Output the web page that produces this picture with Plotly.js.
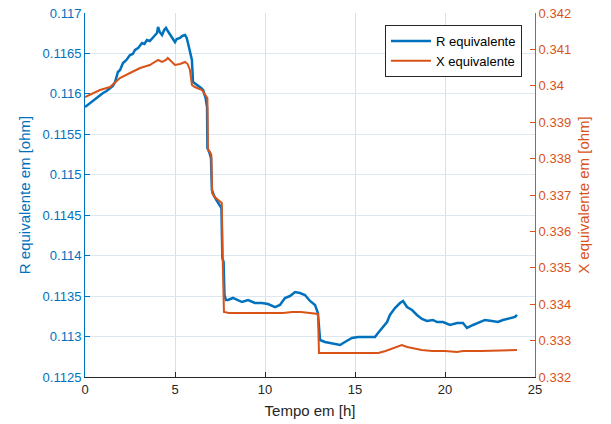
<!DOCTYPE html>
<html>
<head>
<meta charset="utf-8">
<script src="https://cdn.plot.ly/plotly-3.0.1.min.js"></script>
<style>
html,body{margin:0;padding:0;background:#fff;}
#chart{width:611px;height:424px;}
</style>
</head>
<body>
<div id="chart"></div>
<script>
// Time [h] for R series
var tR = [
  0, 0.28, 0.5, 0.67, 0.83, 1.0, 1.2, 1.39, 1.55, 1.67,
  1.83, 1.95, 2.11, 2.3, 2.5, 2.65, 2.78, 2.95, 3.17, 3.3,
  3.44, 3.6, 3.72, 3.85, 4.0, 4.06, 4.15, 4.28, 4.4, 4.5,
  4.6, 4.72, 4.85, 5.0, 5.1, 5.28, 5.4, 5.56, 5.65, 5.72,
  5.85, 5.94, 6.0, 6.15, 6.28, 6.45, 6.56, 6.7, 6.78, 6.8,
  6.9, 7.0, 7.05, 7.15, 7.3, 7.45, 7.58, 7.63, 7.7, 7.75,
  7.83, 7.94, 8.22, 8.72, 9.06, 9.44, 9.83, 10.17, 10.56, 10.83,
  11.11, 11.39, 11.67, 11.94, 12.22, 12.5, 12.78, 12.94, 13.06, 13.33,
  13.72, 14.17, 14.44, 14.83, 15.17, 15.56, 15.83, 16.11, 16.28, 16.5,
  16.78, 16.94, 17.22, 17.5, 17.67, 17.89, 18.17, 18.44, 18.72, 19.0,
  19.33, 19.56, 19.89, 20.28, 20.67, 21.0, 21.22, 21.56, 21.94, 22.22,
  22.61, 22.94, 23.22, 23.61, 23.89, 24.0
];
// R equivalente [ohm]
var rEquiv = [
  0.115838, 0.115887, 0.115924, 0.115949, 0.115974, 0.116011, 0.116036, 0.116073, 0.116098, 0.116147,
  0.116271, 0.116295, 0.116382, 0.116419, 0.116481, 0.116493, 0.116543, 0.116567, 0.116629, 0.116617,
  0.116666, 0.116654, 0.116691, 0.116716, 0.116753, 0.116827, 0.116765, 0.116728, 0.116790, 0.116815,
  0.116777, 0.116728, 0.116691, 0.116641, 0.116679, 0.116691, 0.116716, 0.116728, 0.116691, 0.116629,
  0.116518, 0.116419, 0.116147, 0.116122, 0.116110, 0.116073, 0.116048, 0.115949, 0.115838, 0.115331,
  0.115282, 0.115207, 0.114812, 0.114750, 0.114688, 0.114626, 0.114589, 0.113971, 0.113922, 0.113514,
  0.113452, 0.113452, 0.113477, 0.113427, 0.113452, 0.113415, 0.113415, 0.113402, 0.113365, 0.113390,
  0.113477, 0.113501, 0.113551, 0.113538, 0.113514, 0.113440, 0.113390, 0.113291, 0.112957, 0.112933,
  0.112920, 0.112896, 0.112933, 0.112982, 0.112995, 0.112995, 0.112995, 0.112995, 0.113044, 0.113106,
  0.113180, 0.113267, 0.113353, 0.113415, 0.113440, 0.113365, 0.113328, 0.113267, 0.113217, 0.113192,
  0.113205, 0.113180, 0.113180, 0.113143, 0.113168, 0.113168, 0.113106, 0.113143, 0.113180, 0.113205,
  0.113192, 0.113180, 0.113205, 0.113229, 0.113242, 0.113267
];
// Time [h] for X series
var tX = [
  0, 0.5, 0.83, 1.39, 1.7, 1.94, 2.5, 3.06, 3.6, 4.06,
  4.28, 4.5, 4.6, 4.8, 5.0, 5.28, 5.56, 5.7, 5.83, 5.94,
  6.1, 6.5, 6.7, 6.8, 6.83, 6.95, 7.02, 7.06, 7.2, 7.4,
  7.6, 7.65, 7.72, 8.0, 9.0, 10.0, 11.0, 11.5, 12.0, 12.5,
  12.94, 13.0, 14.0, 15.0, 16.0, 16.3, 16.7, 17.1, 17.6, 17.9,
  18.2, 18.7, 19.3, 20.0, 20.67, 21.0, 22.0, 23.0, 24.0
];
// X equivalente [ohm]
var xEquiv = [
  0.339692, 0.339802, 0.339885, 0.339967, 0.340104, 0.340214, 0.340352, 0.340489, 0.340571, 0.340709,
  0.340654, 0.340709, 0.340764, 0.340654, 0.340571, 0.340599, 0.340654, 0.340599, 0.340434, 0.340022,
  0.339967, 0.339885, 0.339747, 0.339665, 0.338236, 0.338181, 0.338099, 0.337055, 0.336945, 0.336863,
  0.336780, 0.335214, 0.333786, 0.333758, 0.333758, 0.333758, 0.333758, 0.333786, 0.333786, 0.333758,
  0.333731, 0.332659, 0.332659, 0.332659, 0.332659, 0.332659, 0.332714, 0.332797, 0.332879, 0.332824,
  0.332797, 0.332742, 0.332714, 0.332714, 0.332687, 0.332714, 0.332714, 0.332728, 0.332742
];

var xTickVals = [0, 5, 10, 15, 20, 25];
var xTickText = ["0", "5", "10", "15", "20", "25"];
var yLeftTickVals = [0.1125, 0.113, 0.1135, 0.114, 0.1145, 0.115, 0.1155, 0.116, 0.1165, 0.117];
var yLeftTickText = ["0.1125", "0.113", "0.1135", "0.114", "0.1145", "0.115", "0.1155", "0.116", "0.1165", "0.117"];
var yRightTickVals = [0.332, 0.333, 0.334, 0.335, 0.336, 0.337, 0.338, 0.339, 0.34, 0.341, 0.342];
var yRightTickText = ["0.332", "0.333", "0.334", "0.335", "0.336", "0.337", "0.338", "0.339", "0.34", "0.341", "0.342"];

var seriesNames = ["R equivalente", "X equivalente"];

var BLUE = "#0072BD", ORANGE = "#D95319", DARK = "#262626";
var FONT = "Liberation Sans, Arial, sans-serif";

var traces = [
  {x: tR, y: rEquiv, name: seriesNames[0], type: "scatter", mode: "lines",
   line: {color: BLUE, width: 2.5}, yaxis: "y"},
  {x: tX, y: xEquiv, name: seriesNames[1], type: "scatter", mode: "lines",
   line: {color: ORANGE, width: 2}, yaxis: "y2"}
];

var layout = {
  width: 611, height: 424,
  margin: {l: 85, r: 76, t: 13, b: 47, pad: 0},
  paper_bgcolor: "#ffffff", plot_bgcolor: "#ffffff",
  font: {family: FONT, size: 13, color: DARK},
  showlegend: true,
  legend: {
    x: 0.971, y: 0.967, xanchor: "right", yanchor: "top",
    bgcolor: "#ffffff", bordercolor: DARK, borderwidth: 1,
    font: {family: FONT, size: 13, color: "#000000"},
    tracegroupgap: 0, itemwidth: 40
  },
  xaxis: {
    range: [0, 25], tickvals: xTickVals, ticktext: xTickText,
    ticks: "inside", ticklen: 5, tickwidth: 1, tickcolor: DARK,
    showline: true, linecolor: DARK, linewidth: 1, mirror: false,
    showgrid: true, gridcolor: "#dfdfdf", gridwidth: 1, zeroline: false,
    tickfont: {family: FONT, size: 13, color: DARK},
    title: {text: "Tempo em [h]", font: {family: FONT, size: 15, color: DARK}, standoff: 9}
  },
  yaxis: {
    range: [0.1125, 0.117], tickvals: yLeftTickVals, ticktext: yLeftTickText,
    ticks: "inside", ticklen: 5, tickwidth: 1, tickcolor: BLUE,
    showline: true, linecolor: BLUE, linewidth: 1,
    showgrid: true, gridcolor: "#dde7ef", gridwidth: 1, zeroline: false,
    tickfont: {family: FONT, size: 13, color: BLUE},
    title: {text: "R equivalente em [ohm]", font: {family: FONT, size: 15, color: BLUE}, standoff: 8}
  },
  yaxis2: {
    range: [0.332, 0.342], tickvals: yRightTickVals, ticktext: yRightTickText,
    overlaying: "y", side: "right",
    ticks: "inside", ticklen: 5, tickwidth: 1, tickcolor: ORANGE,
    showline: true, linecolor: ORANGE, linewidth: 1,
    showgrid: false, zeroline: false,
    tickfont: {family: FONT, size: 13, color: ORANGE},
    title: {text: "X equivalente em [ohm]", font: {family: FONT, size: 15, color: ORANGE}, standoff: 8}
  }
};

Plotly.newPlot("chart", traces, layout, {staticPlot: true, displayModeBar: false});
</script>
</body>
</html>
